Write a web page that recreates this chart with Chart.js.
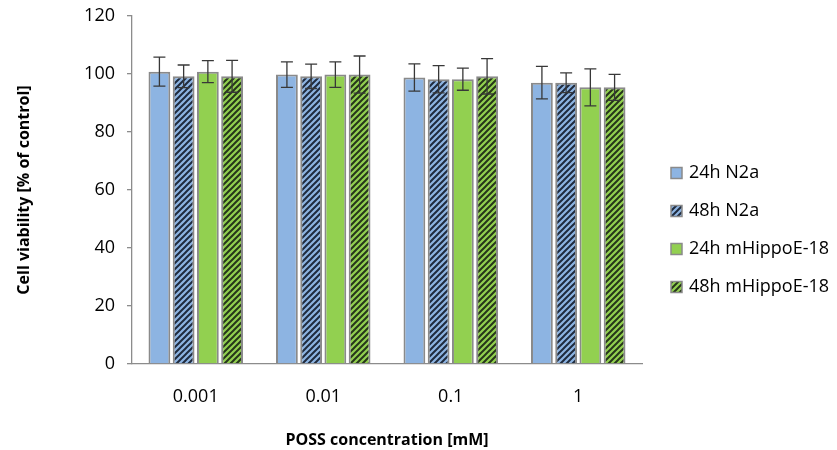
<!DOCTYPE html>
<html>
<head>
<meta charset="utf-8">
<script src="https://cdn.jsdelivr.net/npm/chart.js@4.4.1/dist/chart.umd.min.js"></script>
<style>
    html, body { margin: 0; padding: 0; background: #fff; }
    #wrap { width: 837px; height: 450px; }
</style>
</head>
<body>
<div id="wrap"><canvas id="viabilityChart" width="837" height="450"></canvas></div>
<script>
// Data
const categories = ["0.001", "0.01", "0.1", "1"];
const seriesLabels = ["24h N2a", "48h N2a", "24h mHippoE-18", "48h mHippoE-18"];
const n2a24 = [100.8, 99.8, 98.8, 97.0];
const n2a48 = [99.2, 99.2, 98.2, 97.0];
const hippo24 = [100.8, 99.8, 98.2, 95.4];
const hippo48 = [99.2, 99.8, 99.2, 95.4];
const n2a24Err = [5.0, 4.4, 4.7, 5.6];
const n2a48Err = [3.9, 4.2, 4.7, 3.4];
const hippo24Err = [3.8, 4.4, 3.8, 6.4];
const hippo48Err = [5.5, 6.4, 6.1, 4.5];
const yTicks = [0, 20, 40, 60, 80, 100, 120];

const BLUE = "#8db4e2";
const GREEN = "#92d050";
const FONT = "'Open Sans', 'Liberation Sans', sans-serif";

// Diagonal hatch pattern ("/" stripes) over a base colour
const makeHatch = (base, stripe) => {
    const c = document.createElement("canvas");
    c.width = 6;
    c.height = 6;
    const g = c.getContext("2d");
    g.fillStyle = base;
    g.fillRect(0, 0, 6, 6);
    g.strokeStyle = stripe;
    g.lineWidth = 2;
    g.beginPath();
    g.moveTo(-1, 7);
    g.lineTo(7, -1);
    g.moveTo(-4, 4);
    g.lineTo(4, -4);
    g.moveTo(2, 10);
    g.lineTo(10, 2);
    g.stroke();
    return g.createPattern(c, "repeat");
};

const fills = [BLUE, makeHatch(BLUE, "#1f2b3e"), GREEN, makeHatch(GREEN, "#26361a")];
const values = [n2a24, n2a48, hippo24, hippo48];
const errors = [n2a24Err, n2a48Err, hippo24Err, hippo48Err];

// Error bars drawn from the bar elements and the y scale
const errorBarPlugin = {
    id: "errorBars",
    afterDatasetsDraw(chart) {
        const ctx = chart.ctx;
        const yScale = chart.scales.y;
        ctx.save();
        ctx.strokeStyle = "#383838";
        ctx.lineWidth = 1.3;
        chart.data.datasets.forEach((ds, di) => {
            const meta = chart.getDatasetMeta(di);
            meta.data.forEach((bar, i) => {
                const v = ds.data[i];
                const e = errors[di][i];
                const yTop = yScale.getPixelForValue(v + e);
                const yBot = yScale.getPixelForValue(v - e);
                const x = bar.x;
                ctx.beginPath();
                ctx.moveTo(x, yTop);
                ctx.lineTo(x, yBot);
                ctx.moveTo(x - 6, yTop);
                ctx.lineTo(x + 6, yTop);
                ctx.moveTo(x - 6, yBot);
                ctx.lineTo(x + 6, yBot);
                ctx.stroke();
            });
        });
        ctx.restore();
    },
};

// Legend on the right, Excel style
const sideLegendPlugin = {
    id: "sideLegend",
    afterDraw(chart) {
        const ctx = chart.ctx;
        const rowGap = 38;
        const startY = 230 - rowGap * 1.5;
        ctx.save();
        ctx.font = "18px " + FONT;
        ctx.textBaseline = "middle";
        ctx.textAlign = "left";
        chart.data.datasets.forEach((ds, i) => {
            const cy = startY + i * rowGap;
            ctx.fillStyle = ds.backgroundColor;
            ctx.fillRect(671, cy - 5.5, 11, 11);
            ctx.strokeStyle = "#8a8a8a";
            ctx.lineWidth = 1.5;
            ctx.strokeRect(671, cy - 5.5, 11, 11);
            ctx.fillStyle = "#000";
            ctx.fillText(ds.label, 689, cy);
        });
        ctx.restore();
    },
};

new Chart(document.getElementById("viabilityChart"), {
    type: "bar",
    data: {
        labels: categories,
        datasets: seriesLabels.map((label, i) => ({
            label: label,
            data: values[i],
            backgroundColor: fills[i],
            borderColor: "#8a8a8a",
            borderWidth: 2,
            categoryPercentage: 0.76,
            barPercentage: 0.9,
        })),
    },
    options: {
        responsive: false,
        animation: false,
        devicePixelRatio: 1,
        layout: { padding: { top: 16, right: 195, bottom: 0, left: 0 } },
        plugins: {
            legend: { display: false },
            tooltip: { enabled: false },
        },
        scales: {
            x: {
                grid: { display: false, drawTicks: false },
                border: { display: true, color: "#8c8c8c", width: 1.3 },
                ticks: {
                    color: "#000",
                    padding: 22,
                    font: { family: FONT, size: 18 },
                },
                title: {
                    display: true,
                    text: "POSS concentration [mM]",
                    color: "#000",
                    font: { family: FONT, size: 16, weight: "bold" },
                    padding: { top: 0, bottom: 0 },
                },
                afterFit: (scale) => {
                    scale.height = 86;
                },
            },
            y: {
                min: 0,
                max: 120,
                afterBuildTicks: (scale) => {
                    scale.ticks = yTicks.map((v) => ({ value: v }));
                },
                grid: {
                    display: true,
                    drawOnChartArea: false,
                    drawTicks: true,
                    tickLength: 5,
                    color: "#8c8c8c",
                    lineWidth: 1.3,
                },
                border: { display: true, color: "#8c8c8c", width: 1.3 },
                ticks: {
                    color: "#000",
                    padding: 12,
                    font: { family: FONT, size: 18 },
                },
                title: {
                    display: true,
                    text: "Cell viability [% of control]",
                    color: "#000",
                    font: { family: FONT, size: 16, weight: "bold" },
                    padding: { top: 15, bottom: 0 },
                },
                afterFit: (scale) => {
                    scale.width = 132;
                    scale.paddingTop = 0;
                    scale.paddingBottom = 0;
                },
            },
        },
    },
    plugins: [errorBarPlugin, sideLegendPlugin],
});
</script>
</body>
</html>
